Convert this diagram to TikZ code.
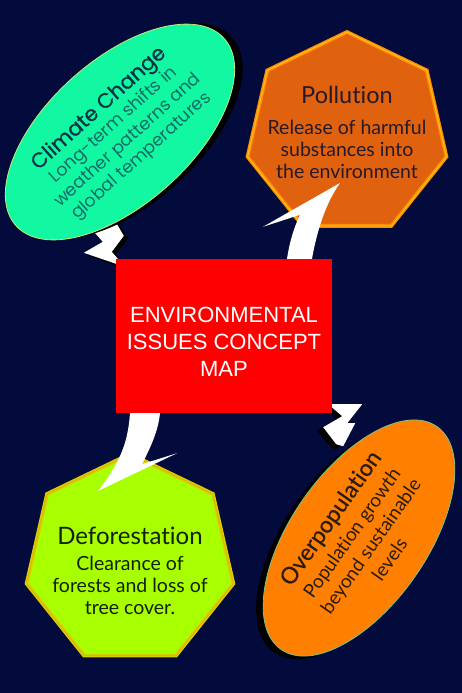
\documentclass[tikz,border=0pt]{standalone}
\usepackage{fontspec}
\setmainfont{Lato}[Ligatures=NoCommon]
\newfontfamily\popfont{Poppins}
\newfontfamily\poptitle{Poppins}[BoldFont={Poppins}, BoldFeatures={FakeBold=0.6}]
\newfontfamily\latotitle{Lato}[BoldFont={Lato}, BoldFeatures={FakeBold=0.5}, Ligatures=NoCommon]
\newfontfamily\mapfont{Liberation Sans}
\usetikzlibrary{shapes.geometric,calc,shadows,backgrounds}
\definecolor{mapbg}{HTML}{020B3B}
\definecolor{mapred}{HTML}{FF0000}
\definecolor{ccfill}{HTML}{12F8A2}
\definecolor{ccline}{HTML}{C8E878}
\definecolor{cctitle}{HTML}{0B3346}
\definecolor{cctext}{HTML}{126E66}
\definecolor{pofill}{HTML}{E0620F}
\definecolor{poline}{HTML}{FF8C00}
\definecolor{poinner}{HTML}{FFC020}
\definecolor{potext}{HTML}{261A2A}
\definecolor{defill}{HTML}{A8FF00}
\definecolor{deline}{HTML}{D4D200}
\definecolor{deinner}{HTML}{E8B000}
\definecolor{detext}{HTML}{14200E}
\definecolor{ovfill}{HTML}{FF8000}
\definecolor{ovline}{HTML}{7CC08A}
\definecolor{ovtext}{HTML}{2A1C14}

\begin{document}
\begin{tikzpicture}[x=1pt, y=-1pt,
  bubble/.style={ellipse, align=center, inner sep=0pt, line width=0.8pt},
  heptagon/.style={regular polygon, regular polygon sides=7, inner sep=0pt,
    line width=1.4pt, double distance=1pt},
  blurb/.style={align=center, inner sep=0pt},
  bolt/.style={fill=white},
  boltshade/.style={fill=black},
  swoosh/.style={fill=white},
  ]
  \useasboundingbox (0,0) rectangle (462,693);
  % topic bubbles
  \node[bubble, minimum width=280pt, minimum height=144pt, fill=ccfill, draw=ccline, rotate=42,
    general shadow={fill=black, shadow xshift=8pt, shadow yshift=1pt},
    text=cctext, font=\popfont\fontsize{17.5}{21}\selectfont] (cc) at (120,132)
    {\textcolor{cctitle}{\poptitle\bfseries\fontsize{21}{22}\selectfont Climate Change}\\Long-term shifts in\\weather patterns and\\global temperatures};
  \node[bubble, minimum width=272pt, minimum height=136pt, fill=ovfill, draw=ovline, rotate=55,
    general shadow={fill=black, shadow xshift=-7pt, shadow yshift=-3pt},
    text=ovtext, font=\fontsize{19}{23}\selectfont] (ov) at (359,538)
    {{\latotitle\bfseries\fontsize{23}{24}\selectfont Overpopulation}\\[2pt]Population growth\\beyond sustainable\\levels};
  \node[heptagon, minimum size=204pt, fill=pofill, draw=poline, double=poinner] (poll) at (347,134) {};
  \node[blurb, text=potext, font=\fontsize{19.5}{22}\selectfont] (polltxt) at ([yshift=2pt]poll.center)
    {{\fontsize{23.5}{24}\selectfont Pollution}\\[9pt]Release of harmful\\substances into\\the environment};
  \node[heptagon, minimum size=212pt, fill=defill, draw=deline, double=deinner] (defo) at (130,560) {};
  \node[blurb, text=detext, font=\fontsize{19.5}{22}\selectfont] (defotxt) at ([yshift=-11pt]defo.center)
    {{\fontsize{24}{24}\selectfont Deforestation}\\[4pt]Clearance of\\forests and loss of\\tree cover.};
  % centre
  \node[fill=mapred, minimum width=216pt, minimum height=154pt] (map) at (224,336) {};
  \node[blurb, text=white, font=\mapfont\fontsize{22}{27}\selectfont] (maptxt) at ([yshift=-6pt]map.center)
    {ENVIRONMENTAL\\ISSUES CONCEPT\\MAP};
  % swoosh arrows
  \fill[swoosh] ($(map.north)+(63,0)$) .. controls ($(map.north)+(66,-19)$) and ($(map.north)+(70,-31)$)
    .. ($(map.north)+(76,-44)$) -- ($(map.north)+(39,-32)$) -- ($(poll.center)+(-7,49)$)
    .. controls ($(map.north)+(104,-59)$) and ($(map.north)+(94,-34)$) .. ($(map.north)+(88,0)$) -- cycle;
  \fill[swoosh] ($(map.south)+(-94,0)$) .. controls ($(map.south)+(-96,27)$) and ($(map.south)+(-102,47)$)
    .. ($(defo.center)+(-32,-69)$) -- ($(map.south)+(-47,40)$) -- ($(map.south)+(-82,51)$)
    .. controls ($(map.south)+(-74,35)$) and ($(map.south)+(-66,19)$) .. ($(map.south)+(-64,0)$) -- cycle;
  % lightning bolts
  \begin{scope}[on background layer]
    \fill[mapbg] (0,0) rectangle (462,693);
    \foreach \style/\dx/\dy in {boltshade/4pt/-3pt, bolt/0pt/0pt} {
      \fill[\style, transform canvas={xshift=\dx, yshift=\dy}]
        ($(map.north west)+(-28,-34)$) -- ($(map.north west)+(-13,-17)$) -- ($(map.north west)+(-32,-6)$)
        -- ($(map.north west)+(9,8)$) -- ($(map.north west)+(-4,-7)$) -- ($(map.north west)+(8,-23)$)
        -- ($(map.north west)+(-2,-40)$) -- cycle;
    }
    \foreach \style/\dx/\dy in {boltshade/-6pt/-3pt, bolt/0pt/0pt} {
      \fill[\style, transform canvas={xshift=\dx, yshift=\dy}]
        ($(map.south east)+(-4,-9)$) -- ($(map.south east)+(30,-9)$) -- ($(map.south east)+(15,10)$)
        -- ($(map.south east)+(23,10)$) -- ($(map.south east)+(11,33)$) -- ($(map.south east)+(4,31)$)
        -- ($(map.south east)+(-9,14)$) -- ($(map.south east)+(10,3)$) -- cycle;
    }
  \end{scope}
\end{tikzpicture}
\end{document}
